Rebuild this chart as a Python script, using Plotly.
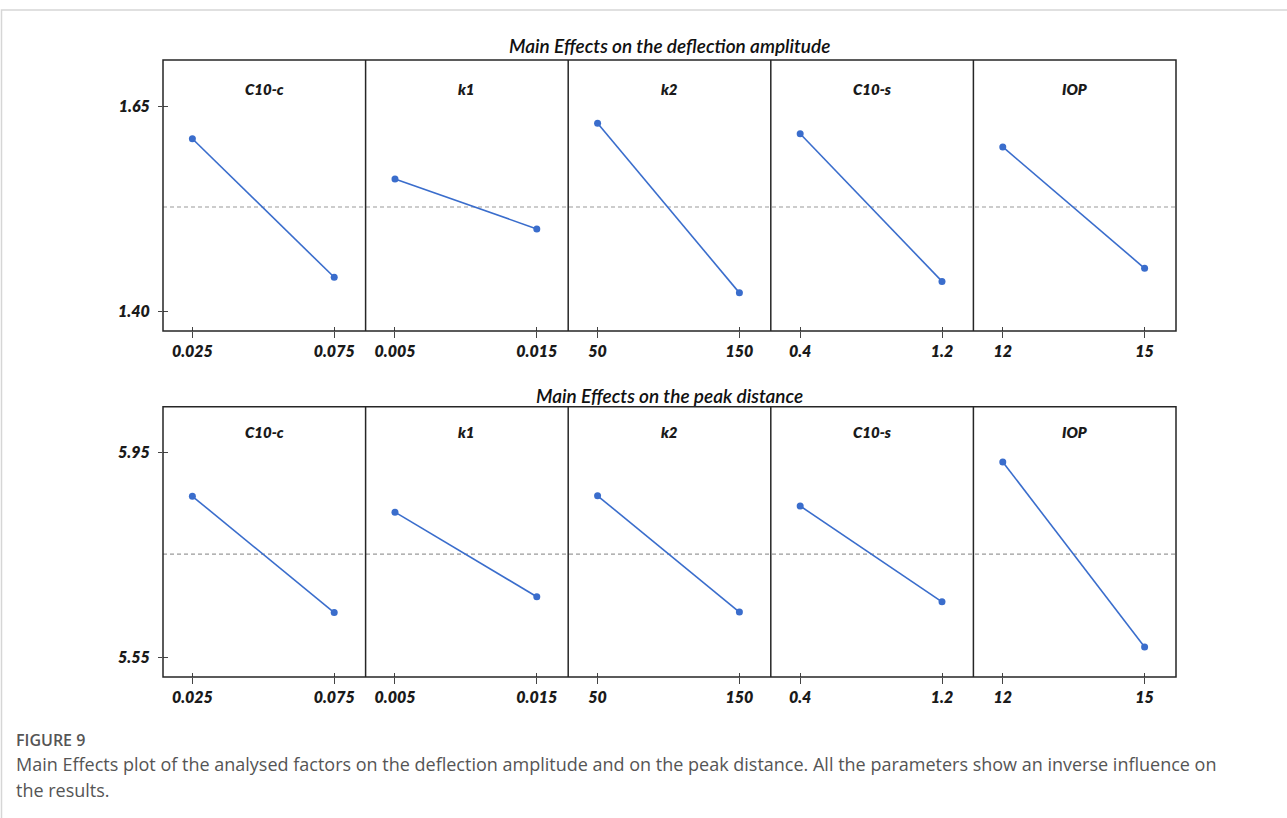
import plotly.graph_objects as go
import numpy as np

# ---------------- data ----------------
factors = ["C10-c", "k1", "k2", "C10-s", "IOP"]
low_levels = [0.025, 0.005, 50, 0.4, 12]
high_levels = [0.075, 0.015, 150, 1.2, 15]
low_labels = ["0.025", "0.005", "50", "0.4", "12"]
high_labels = ["0.075", "0.015", "150", "1.2", "15"]

defl_low = [1.611, 1.562, 1.630, 1.617, 1.601]
defl_high = [1.442, 1.501, 1.423, 1.437, 1.453]
peak_low = [5.865, 5.834, 5.866, 5.846, 5.932]
peak_high = [5.638, 5.669, 5.639, 5.659, 5.571]

defl_ticks = [1.40, 1.65]
defl_ticktext = ["1.40", "1.65"]
peak_ticks = [5.55, 5.95]
peak_ticktext = ["5.55", "5.95"]

title_top = "Main Effects on the deflection amplitude"
title_bottom = "Main Effects on the peak distance"
caption_head = "FIGURE 9"
caption_line1 = ("Main Effects plot of the analysed factors on the deflection amplitude and on the peak "
                 "distance. All the parameters show an inverse influence on")
caption_line2 = "the results."

# ---------------- layout helpers ----------------
W, H = 1287, 818
def px_x(p):
    return p / W
def px_y(p):
    return 1 - p / H

L, R = 163, 1176
pw = (R - L) / 5
LOW_F, HIGH_F = 0.145, 0.845

BLUE = "#3a6dcc"
FRAME = "#262626"
TICKFONT = dict(family="Lato", size=16, color="#1a1a1a", weight=800, style="italic")

rows = [
    dict(top=60, bot=331, yr=[1.3765, 1.707], tv=defl_ticks, tt=defl_ticktext,
         low=defl_low, high=defl_high, title=title_top, ty=46, ly=89),
    dict(top=406.7, bot=677, yr=[5.5123, 6.0398], tv=peak_ticks, tt=peak_ticktext,
         low=peak_low, high=peak_high, title=title_bottom, ty=395, ly=432),
]

fig = go.Figure()
layout = {}
shapes = []
annotations = []

def aname(kind, i):
    return f"{kind}axis" if i == 1 else f"{kind}axis{i}"
def aref(kind, i):
    return kind if i == 1 else f"{kind}{i}"

overlay_idx = 11
for r, row in enumerate(rows):
    for c in range(5):
        idx = r * 5 + c + 1
        lo, hi = low_levels[c], high_levels[c]
        span = (hi - lo) / (HIGH_F - LOW_F)
        r0 = lo - LOW_F * span
        xr = [r0, r0 + span]
        xdom = [px_x(L + c * pw), px_x(L + (c + 1) * pw)]
        ydom = [px_y(row["bot"]), px_y(row["top"])]

        layout[aname("x", idx)] = dict(
            domain=xdom, anchor=aref("y", idx), range=xr,
            tickvals=[lo, hi], ticktext=[low_labels[c], high_labels[c]],
            ticks="outside", ticklen=6, tickwidth=1, tickcolor="#444",
            showline=False, showgrid=False, zeroline=False, tickfont=TICKFONT, fixedrange=True,
        )
        yax = dict(
            domain=ydom, anchor=aref("x", idx), range=row["yr"],
            showline=False, showgrid=False, zeroline=False, fixedrange=True,
        )
        if c == 0:
            yax.update(tickvals=row["tv"], ticktext=row["tt"], ticks="outside",
                       ticklen=4, tickwidth=1, tickcolor="#444", tickfont=TICKFONT,
                       ticklabelstandoff=5)
        else:
            yax.update(showticklabels=False, ticks="")
        layout[aname("y", idx)] = yax

        # inside part of the crossing x ticks
        k = overlay_idx
        overlay_idx += 1
        layout[aname("x", k)] = dict(
            overlaying=aref("x", idx), anchor=aref("y", idx), range=xr, side="bottom",
            tickvals=[lo, hi], ticks="inside", ticklen=4, tickwidth=1, tickcolor="#444",
            showticklabels=False, showline=False, showgrid=False, zeroline=False, fixedrange=True,
        )
        fig.add_trace(go.Scatter(x=[], y=[], xaxis=aref("x", k), yaxis=aref("y", idx),
                                 showlegend=False, hoverinfo="skip"))

        fig.add_trace(go.Scatter(
            x=[lo, hi], y=[row["low"][c], row["high"][c]],
            xaxis=aref("x", idx), yaxis=aref("y", idx),
            mode="lines+markers", line=dict(color=BLUE, width=1.6),
            marker=dict(color=BLUE, size=7), showlegend=False,
        ))

        annotations.append(dict(
            text=factors[c], xref="paper", yref="paper",
            x=px_x(L + (c + 0.5) * pw), y=px_y(row["ly"]), showarrow=False,
            xanchor="center", yanchor="middle",
            font=dict(family="Lato", size=15, color="#1a1a1a", weight=800, style="italic"),
        ))

        if c > 0:
            shapes.append(dict(type="line", xref="paper", yref="paper",
                               x0=px_x(L + c * pw), x1=px_x(L + c * pw),
                               y0=px_y(row["bot"]), y1=px_y(row["top"]),
                               line=dict(color=FRAME, width=1.5)))

    shapes.append(dict(type="rect", xref="paper", yref="paper",
                       x0=px_x(L), x1=px_x(R), y0=px_y(row["bot"]), y1=px_y(row["top"]),
                       line=dict(color=FRAME, width=1.5)))

    # inside part of crossing y ticks on first column
    base = r * 5 + 1
    k = overlay_idx
    overlay_idx += 1
    layout[aname("y", k)] = dict(
        overlaying=aref("y", base), anchor=aref("x", base), range=row["yr"], side="left",
        tickvals=row["tv"], ticks="inside", ticklen=5, tickwidth=1, tickcolor="#444",
        showticklabels=False, showline=False, showgrid=False, zeroline=False, fixedrange=True,
    )
    fig.add_trace(go.Scatter(x=[], y=[], xaxis=aref("x", base), yaxis=aref("y", k),
                             showlegend=False, hoverinfo="skip"))

    grand_mean = float(np.mean(row["low"] + row["high"]))
    shapes.append(dict(
        type="line", xref="paper", yref=aref("y", base),
        x0=px_x(L), x1=px_x(R), y0=grand_mean, y1=grand_mean,
        line=dict(color="#9a9a9a", width=1.2, dash="4px,3px"), layer="below",
    ))

    annotations.append(dict(
        text=row["title"], xref="paper", yref="paper",
        x=px_x((L + R) / 2), y=px_y(row["ty"]), showarrow=False,
        xanchor="center", yanchor="middle",
        font=dict(family="Lato", size=19, color="#111111", weight=600, style="italic"),
    ))

# page border
shapes.append(dict(type="rect", xref="paper", yref="paper",
                   x0=px_x(1.5), x1=px_x(W + 20), y0=px_y(H + 20), y1=px_y(10),
                   line=dict(color="#d6d6d6", width=1.5), layer="below"))

# caption
annotations.append(dict(text=caption_head, xref="paper", yref="paper", x=px_x(14), y=px_y(740),
                        xanchor="left", yanchor="middle", showarrow=False,
                        font=dict(family="Open Sans", size=16, color="#555555", weight=600)))
annotations.append(dict(text=caption_line1, xref="paper", yref="paper", x=px_x(14), y=px_y(764),
                        xanchor="left", yanchor="middle", showarrow=False,
                        font=dict(family="Open Sans", size=18, color="#555555")))
annotations.append(dict(text=caption_line2, xref="paper", yref="paper", x=px_x(14), y=px_y(790),
                        xanchor="left", yanchor="middle", showarrow=False,
                        font=dict(family="Open Sans", size=18, color="#555555")))

fig.update_layout(
    width=W, height=H, autosize=False,
    margin=dict(l=0, r=0, t=0, b=0, pad=0),
    paper_bgcolor="white", plot_bgcolor="rgba(0,0,0,0)",
    shapes=shapes, annotations=annotations, showlegend=False,
    **layout,
)

fig.write_html("out.html", config={"displayModeBar": False},
               post_script="document.body.style.margin='0px';document.body.style.overflow='hidden';")
